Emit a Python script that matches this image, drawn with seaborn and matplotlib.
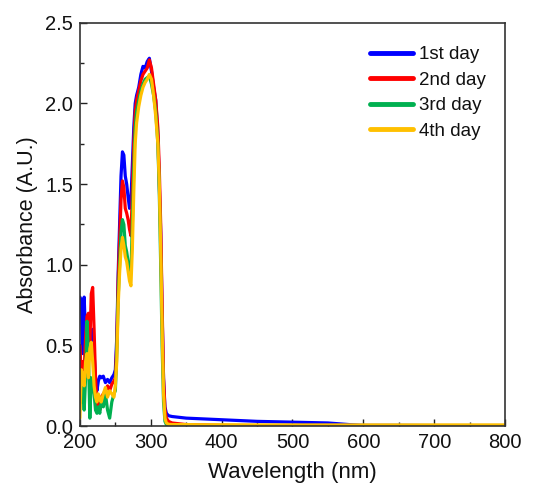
import numpy as np
import pandas as pd
import matplotlib
matplotlib.use("Agg")
import matplotlib.pyplot as plt
from matplotlib.ticker import MultipleLocator, FormatStrFormatter
import seaborn as sns

# Wavelength grid (nm) shared by all four spectra
wavelength = [200, 202, 204, 206, 208, 210, 212, 214, 216, 218, 220, 222, 224, 226, 228, 230,
              233, 236, 239, 242, 245, 248,
              250, 252, 254, 256, 258, 260, 262, 264, 266, 268, 270, 272, 274, 276, 278, 280,
              283, 286, 289, 292, 295, 298, 301, 304, 307, 310,
              312, 314, 316, 318, 320, 322,
              325, 330, 340, 350, 375, 400, 450, 500, 550, 580, 600, 650, 700, 750, 800]

day1 = [0.80, 0.78, 0.45, 0.80, 0.55, 0.40, 0.50, 0.45, 0.55, 0.60, 0.45, 0.30, 0.22, 0.28, 0.31, 0.30,
        0.31, 0.27, 0.29, 0.27, 0.30, 0.32,
        0.35, 0.55, 0.95, 1.25, 1.55, 1.70, 1.68, 1.55, 1.50, 1.42, 1.35, 1.40, 1.62, 1.85, 2.00, 2.05,
        2.10, 2.18, 2.23, 2.22, 2.26, 2.28, 2.20, 2.10, 2.02, 1.80,
        1.50, 1.20, 0.70, 0.30, 0.12, 0.08,
        0.065, 0.06, 0.055, 0.05, 0.045, 0.04, 0.03, 0.025, 0.02, 0.01, 0.005, 0.005, 0.004, 0.004, 0.004]

day2 = [0.50, 0.30, 0.40, 0.35, 0.55, 0.68, 0.70, 0.50, 0.82, 0.86, 0.60, 0.30, 0.12, 0.15, 0.10, 0.18,
        0.20, 0.22, 0.25, 0.22, 0.26, 0.28,
        0.30, 0.50, 0.90, 1.15, 1.40, 1.52, 1.48, 1.35, 1.32, 1.28, 1.22, 1.18, 1.45, 1.75, 1.95, 2.02,
        2.08, 2.14, 2.18, 2.20, 2.22, 2.27, 2.22, 2.12, 2.02, 1.85,
        1.60, 1.25, 0.75, 0.30, 0.10, 0.05,
        0.03, 0.02, 0.015, 0.01, 0.008, 0.005, 0.004, 0.003, 0.003, 0.003, 0.003, 0.003, 0.003, 0.003, 0.003]

day3 = [0.30, 0.15, 0.25, 0.10, 0.30, 0.65, 0.45, 0.05, 0.30, 0.25, 0.20, 0.10, 0.08, 0.12, 0.08, 0.15,
        0.12, 0.20, 0.10, 0.05, 0.15, 0.20,
        0.22, 0.45, 0.80, 1.00, 1.20, 1.28, 1.25, 1.12, 1.08, 1.02, 0.98, 0.96, 1.25, 1.60, 1.85, 1.95,
        2.02, 2.08, 2.12, 2.15, 2.16, 2.17, 2.12, 2.05, 1.95, 1.75,
        1.45, 1.00, 0.50, 0.15, 0.03, 0.01,
        0.005, 0.003, 0.003, 0.003, 0.003, 0.003, 0.003, 0.003, 0.003, 0.003, 0.003, 0.003, 0.003, 0.003, 0.003]

day4 = [0.05, 0.35, 0.30, 0.25, 0.40, 0.45, 0.30, 0.48, 0.52, 0.40, 0.25, 0.18, 0.15, 0.20, 0.17, 0.15,
        0.20, 0.24, 0.18, 0.22, 0.20, 0.18,
        0.25, 0.40, 0.75, 0.95, 1.10, 1.17, 1.12, 1.05, 1.02, 0.96, 0.90, 0.87, 1.10, 1.45, 1.75, 1.88,
        1.98, 2.05, 2.10, 2.13, 2.15, 2.18, 2.15, 2.05, 1.92, 1.75,
        1.50, 1.10, 0.60, 0.20, 0.05, 0.02,
        0.012, 0.01, 0.01, 0.01, 0.009, 0.009, 0.008, 0.008, 0.008, 0.008, 0.008, 0.008, 0.008, 0.008, 0.008]

labels = ["1st day", "2nd day", "3rd day", "4th day"]
colors = ["#0000FF", "#FF0000", "#00B050", "#FFC000"]

frames = []
for lab, vals in zip(labels, [day1, day2, day3, day4]):
    frames.append(pd.DataFrame({"Wavelength": wavelength, "Absorbance": vals, "Day": lab}))
df = pd.concat(frames, ignore_index=True)

sns.set_theme(style="ticks")
plt.rcParams["font.family"] = ["Liberation Sans", "DejaVu Sans"]

fig = plt.figure(figsize=(5.55, 4.95), dpi=100)
ax = fig.add_axes([0.144, 0.139, 0.766, 0.815])

sns.lineplot(data=df, x="Wavelength", y="Absorbance", hue="Day",
             palette=dict(zip(labels, colors)), hue_order=labels,
             linewidth=2.3, ax=ax, sort=False, estimator=None)

ax.set_xlim(200, 800)
ax.set_ylim(0, 2.5)
ax.xaxis.set_major_locator(MultipleLocator(100))
ax.xaxis.set_minor_locator(MultipleLocator(50))
ax.yaxis.set_major_locator(MultipleLocator(0.5))
ax.yaxis.set_minor_locator(MultipleLocator(0.25))
ax.yaxis.set_major_formatter(FormatStrFormatter("%.1f"))

ax.tick_params(axis="both", which="both", direction="in", top=False, right=False,
               colors="#222222", labelcolor="#111111")
ax.tick_params(axis="both", which="major", length=5, width=1.0, labelsize=14.5, pad=5)
ax.tick_params(axis="both", which="minor", length=3, width=1.0)

for sp in ax.spines.values():
    sp.set_visible(True)
    sp.set_linewidth(1.2)
    sp.set_color("#333333")

ax.set_xlabel("Wavelength (nm)", fontsize=16, labelpad=7, color="#111111")
ax.set_ylabel("Absorbance (A.U.)", fontsize=15.5, labelpad=5, color="#111111")

leg = ax.legend(loc="upper right", frameon=False, fontsize=13.5, handlelength=2.3,
                handletextpad=0.3, labelspacing=0.45, borderaxespad=0.3,
                bbox_to_anchor=(0.985, 0.975))
for line in leg.get_lines():
    line.set_linewidth(3.5)
for t in leg.get_texts():
    t.set_color("#111111")

fig.savefig("out.png", dpi=100, facecolor="white")
